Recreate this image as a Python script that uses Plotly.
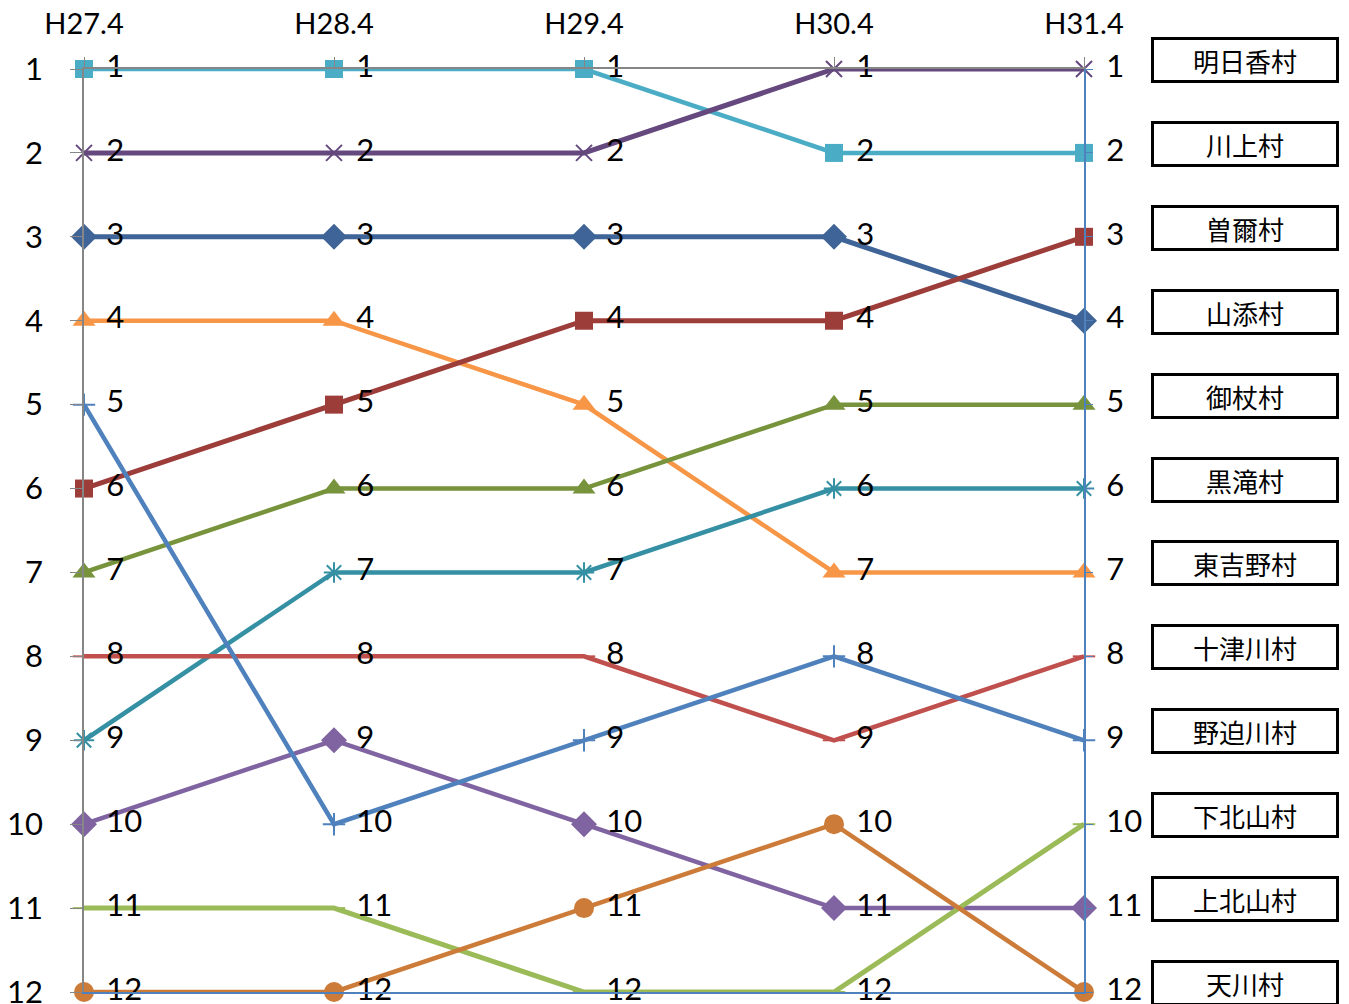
import plotly.graph_objects as go

years = ["H27.4", "H28.4", "H29.4", "H30.4", "H31.4"]

# rank of each village per year (1 = top)
asuka = [2, 2, 2, 1, 1]
kawakami = [1, 1, 1, 2, 2]
soni = [6, 5, 4, 4, 3]
yamazoe = [3, 3, 3, 3, 4]
mitsue = [7, 6, 6, 5, 5]
kurotaki = [9, 7, 7, 6, 6]
higashiyoshino = [4, 4, 5, 7, 7]
totsukawa = [8, 8, 8, 9, 8]
nosegawa = [5, 10, 9, 8, 9]
shimokitayama = [11, 11, 12, 12, 10]
kamikitayama = [10, 9, 10, 11, 11]
tenkawa = [12, 12, 11, 10, 12]

names = ["明日香村", "川上村", "曽爾村", "山添村", "御杖村", "黒滝村",
         "東吉野村", "十津川村", "野迫川村", "下北山村", "上北山村", "天川村"]
ranks = list(range(1, 13))

# (values, colour, marker symbol, marker size, line width)
series = [
    (kawakami, "#4BACC6", "square", 18, 4.5),
    (asuka, "#65497E", "x-thin", 16, 5),
    (yamazoe, "#3F6497", "diamond", 20, 5),
    (higashiyoshino, "#F79646", "triangle-up", 20, 4.5),
    (soni, "#9D3D3A", "square", 18, 5),
    (mitsue, "#77933C", "triangle-up", 20, 4.5),
    (kurotaki, "#3590A3", "asterisk", 17, 4.5),
    (totsukawa, "#C0504D", "line-ew", 16, 4.5),
    (kamikitayama, "#8064A2", "diamond", 20, 4.5),
    (shimokitayama, "#9BBB59", "line-ew", 16, 5),
    (tenkawa, "#CC7B38", "circle", 20, 4.5),
    (nosegawa, "#4F81BD", "cross-thin", 16, 4.5),
]

fig = go.Figure()

for vals, col, sym, sz, lw in series:
    thin = "thin" in sym or sym in ("asterisk", "line-ew")
    fig.add_trace(go.Scatter(
        x=years, y=vals, mode="lines+markers",
        line=dict(color=col, width=lw),
        marker=dict(symbol=sym, size=sz, color=col,
                    line=dict(color=col, width=2 if thin else 0)),
        cliponaxis=False, showlegend=False, hoverinfo="skip"))

# data labels, pushed right by an invisible marker
for vals, col, sym, sz, lw in series:
    fig.add_trace(go.Scatter(
        x=years, y=vals, mode="markers+text",
        text=[str(v) for v in vals], textposition="middle right",
        textfont=dict(family="Lato", size=31, color="black"),
        marker=dict(size=34, color="rgba(0,0,0,0)"),
        cliponaxis=False, showlegend=False, hoverinfo="skip"))

# secondary axes (blue right / bottom lines)
fig.add_trace(go.Scatter(x=years, y=nosegawa, xaxis="x2", yaxis="y2",
                         mode="lines", line=dict(width=0), opacity=0,
                         showlegend=False, hoverinfo="skip"))

for n, r in zip(names, ranks):
    fig.add_annotation(
        x=1.161, xref="paper", xanchor="center", y=r, yref="y", yshift=9,
        text=n, showarrow=False,
        font=dict(family="Noto Sans CJK JP", size=26, color="black"),
        bordercolor="black", borderwidth=3, borderpad=2,
        width=178, height=36, bgcolor="white")

# page body has an 8px default margin, so margins are reduced by 8
fig.update_layout(
    width=1349, height=1004,
    margin=dict(l=76, r=273, t=61, b=20),
    paper_bgcolor="white", plot_bgcolor="white",
    font=dict(family="Lato", size=31, color="black"),
    xaxis=dict(type="category", side="top", range=[0, 4], automargin=False,
               showline=True, linecolor="#868686", linewidth=1.5,
               ticks="outside", ticklen=10, tickcolor="#868686",
               tickfont=dict(family="Lato", size=29),
               showgrid=False, zeroline=False, ticklabelstandoff=12),
    yaxis=dict(range=[12, 1], tickvals=ranks, automargin=False,
               showline=True, linecolor="#868686", linewidth=1.5,
               ticks="outside", ticklen=12, tickcolor="#868686",
               showgrid=False, zeroline=False, ticklabelstandoff=21),
    xaxis2=dict(type="category", range=[0, 4], overlaying="x", side="bottom",
                anchor="y2", automargin=False,
                showline=True, linecolor="#4F81BD", linewidth=1.5,
                showticklabels=False, ticks="", showgrid=False, zeroline=False),
    yaxis2=dict(range=[12, 1], tickvals=ranks, overlaying="y", side="right",
                anchor="x2", automargin=False,
                showline=True, linecolor="#4F81BD", linewidth=1.5,
                ticks="outside", ticklen=7, tickcolor="#4F81BD",
                showticklabels=False,
                showgrid=False, zeroline=False),
)

fig.write_html("out.html")
